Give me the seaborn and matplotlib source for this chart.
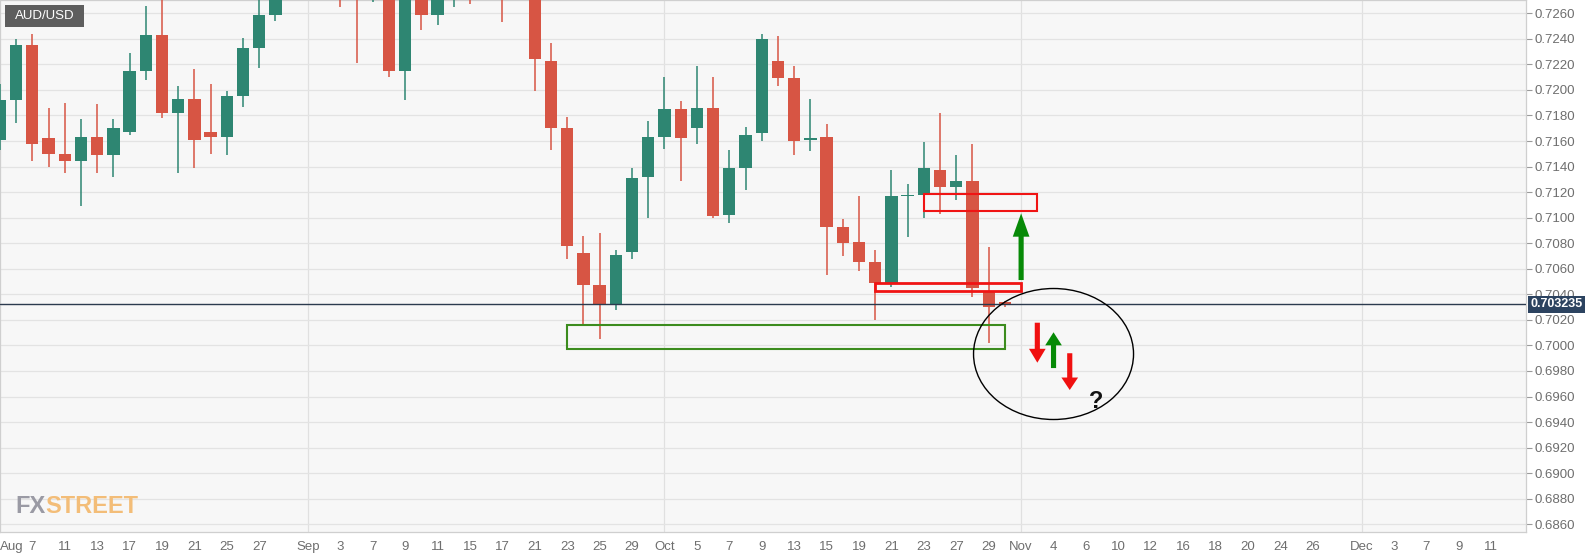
import matplotlib
matplotlib.use('Agg')
import matplotlib.pyplot as plt
import matplotlib.transforms as mtransforms
from matplotlib import font_manager
from matplotlib.patches import Rectangle, Ellipse
import numpy as np
import pandas as pd
import seaborn as sns


# ── AUD/USD daily candles, 5 Aug - 30 Oct 2020 ───────────────────────────────
candle_days = pd.bdate_range('2020-08-05', '2020-10-30')
opens = [0.7161, 0.7192, 0.7235, 0.7162, 0.7150, 0.7144, 0.7163, 0.7149, 0.7167, 0.7215,
         0.7243, 0.7182, 0.7193, 0.7167, 0.7163, 0.7195, 0.7233, 0.7259, 0.7360, 0.7373,
         0.7390, 0.7308, 0.7285, 0.7280, 0.7287, 0.7215, 0.7280, 0.7259, 0.7285, 0.7305,
         0.7290, 0.7315, 0.7300, 0.7290, 0.7223, 0.7170, 0.7072, 0.7047, 0.7032, 0.7073,
         0.7132, 0.7163, 0.7185, 0.7170, 0.7186, 0.7102, 0.7139, 0.7166, 0.7223, 0.7209,
         0.7161, 0.7163, 0.7093, 0.7081, 0.7065, 0.7049, 0.7117, 0.7118, 0.7137, 0.7124,
         0.7129, 0.7043, 0.7034]
highs = [0.7205, 0.7240, 0.7244, 0.7186, 0.7190, 0.7177, 0.7189, 0.7177, 0.7229, 0.7266,
         0.7276, 0.7203, 0.7216, 0.7205, 0.7199, 0.7241, 0.7290, 0.7366, 0.7390, 0.7414,
         0.7396, 0.7345, 0.7298, 0.7295, 0.7296, 0.7286, 0.7309, 0.7296, 0.7310, 0.7320,
         0.7345, 0.7330, 0.7320, 0.7300, 0.7237, 0.7179, 0.7086, 0.7088, 0.7075, 0.7139,
         0.7176, 0.7210, 0.7191, 0.7219, 0.7210, 0.7153, 0.7171, 0.7244, 0.7242, 0.7219,
         0.7193, 0.7173, 0.7099, 0.7117, 0.7075, 0.7137, 0.7126, 0.7159, 0.7182, 0.7149,
         0.7158, 0.7077, 0.7035]
lows = [0.7153, 0.7174, 0.7144, 0.7140, 0.7135, 0.7109, 0.7135, 0.7132, 0.7165, 0.7208,
        0.7178, 0.7135, 0.7139, 0.7150, 0.7149, 0.7187, 0.7217, 0.7254, 0.7345, 0.7360,
        0.7300, 0.7265, 0.7221, 0.7269, 0.7210, 0.7192, 0.7247, 0.7251, 0.7265, 0.7267,
        0.7275, 0.7253, 0.7280, 0.7199, 0.7153, 0.7068, 0.7016, 0.7005, 0.7028, 0.7068,
        0.7100, 0.7154, 0.7129, 0.7158, 0.7100, 0.7096, 0.7122, 0.7160, 0.7203, 0.7149,
        0.7152, 0.7055, 0.7070, 0.7058, 0.7020, 0.7046, 0.7085, 0.7100, 0.7103, 0.7114,
        0.7038, 0.7002, 0.7030]
closes = [0.7192, 0.7235, 0.7158, 0.7150, 0.7144, 0.7163, 0.7149, 0.7170, 0.7215, 0.7243,
          0.7182, 0.7193, 0.7161, 0.7163, 0.7195, 0.7233, 0.7259, 0.7360, 0.7373, 0.7390,
          0.7308, 0.7285, 0.7280, 0.7287, 0.7215, 0.7280, 0.7259, 0.7285, 0.7305, 0.7290,
          0.7315, 0.7300, 0.7290, 0.7224, 0.7170, 0.7078, 0.7047, 0.7032, 0.7071, 0.7131,
          0.7163, 0.7185, 0.7162, 0.7186, 0.7101, 0.7139, 0.7165, 0.7240, 0.7209, 0.7160,
          0.7162, 0.7093, 0.7080, 0.7065, 0.7049, 0.7117, 0.7118, 0.7139, 0.7124, 0.7129,
          0.7045, 0.7030, 0.7032]
last_price = 0.703235

tick_days = ['2020-08-03', '2020-08-07', '2020-08-11', '2020-08-13', '2020-08-17', '2020-08-19',
             '2020-08-21', '2020-08-25', '2020-08-27', '2020-09-01', '2020-09-03', '2020-09-07',
             '2020-09-09', '2020-09-11', '2020-09-15', '2020-09-17', '2020-09-21', '2020-09-23',
             '2020-09-25', '2020-09-29', '2020-10-01', '2020-10-05', '2020-10-07', '2020-10-09',
             '2020-10-13', '2020-10-15', '2020-10-19', '2020-10-21', '2020-10-23', '2020-10-27',
             '2020-10-29', '2020-11-02', '2020-11-04', '2020-11-06', '2020-11-10', '2020-11-12',
             '2020-11-16', '2020-11-18', '2020-11-20', '2020-11-24', '2020-11-26', '2020-12-01',
             '2020-12-03', '2020-12-07', '2020-12-09', '2020-12-11']
price_ticks = np.round(np.arange(0.6860, 0.72601, 0.0020), 4)

# ── hand-drawn annotations: (start day, end day, low, high) ──────────────────
zones = [
    ('2020-10-23', '2020-11-03', 0.71055, 0.71185, '#f01414', 1.5),
    ('2020-10-20', '2020-11-02', 0.70426, 0.70489, '#f01414', 2.0),
    ('2020-09-23', '2020-10-30', 0.69972, 0.70160, '#3c8c1e', 1.5),
]
# (day, tail price, tip price, colour, head length pt)
arrows = [
    ('2020-11-02', 0.70512, 0.71034, '#078a07', 16.8),
    ('2020-11-03', 0.70178, 0.69865, '#f01010', 10.0),
    ('2020-11-04', 0.69823, 0.70103, '#078a07', 9.4),
    ('2020-11-05', 0.69939, 0.69651, '#f01010', 9.0),
]
circle_day, circle_price = '2020-11-04', 0.69933
question_day, question_price = '2020-11-06', 0.69560

GREEN = '#2e8672'
RED = '#d75544'

W, H = 1596, 558
sns.set_theme(style='white')
plt.rcParams['font.family'] = ['Liberation Sans', 'DejaVu Sans']

calendar = pd.bdate_range('2020-08-03', '2020-12-31')
def day_pos(d):
    return calendar.get_loc(pd.Timestamp(d))

x_left = day_pos('2020-08-05') + 0.007
x_right = x_left + 1526 / 16.21

fig = plt.figure(figsize=(W / 100, H / 100), dpi=100, facecolor='white')
ax = fig.add_axes([0, 25.7 / H, 1526 / W, 1 - 25.7 / H])
ax.set_facecolor('#f7f7f7')

# candles
pos = calendar.get_indexer(candle_days)
o, hi, lo, c = map(np.array, (opens, highs, lows, closes))
col = np.where(c >= o, GREEN, RED)
body = np.maximum(np.abs(c - o), 0.00012)
bottom = np.minimum(o, c) - (body - np.abs(c - o)) / 2
ax.vlines(pos, lo, hi, colors=col, lw=1.1, zorder=3)
ax.bar(pos, body, bottom=bottom, width=0.76, color=col, linewidth=0, zorder=4)

# grid
ax.set_yticks(price_ticks)
ax.yaxis.grid(True, color='#e3e3e3', lw=0.9, zorder=0)
tick_pos = [max(day_pos(d), x_left) for d in tick_days]
labels, seen = [], set()
for d in pd.to_datetime(tick_days):
    if d.month not in seen:
        labels.append(d.strftime('%b'))
        seen.add(d.month)
    else:
        labels.append(str(d.day))
for p, lab in zip(tick_pos, labels):
    if lab in ('Sep', 'Oct', 'Nov', 'Dec'):
        ax.axvline(p, color='#e0e0e0', lw=0.9, zorder=0)
ax.set_xticks(tick_pos, labels)
ax.get_xticklabels()[0].set_ha('left')

ax.set_xlim(x_left, x_right)
ax.set_ylim(0.685374, 0.72704)

ax.yaxis.tick_right()
ax.set_yticklabels([f'{v:.4f}' for v in price_ticks])
ax.tick_params(axis='y', direction='out', length=4, width=0.8, color='#9a9a9a',
               labelcolor='#6e6e6e', labelsize=9.5, pad=2)
ax.tick_params(axis='x', direction='out', length=3, width=0.8, color='#9a9a9a',
               labelcolor='#6e6e6e', labelsize=9.5, pad=3)
for s in ax.spines.values():
    s.set_color('#cfcfcf')
    s.set_linewidth(0.9)

# current price line and tag
ax.axhline(last_price, color='#2b3a4e', lw=1.0, zorder=5)
blend = mtransforms.blended_transform_factory(ax.transAxes, ax.transData)
ax.text(1.003, last_price, f'{last_price:.6f}', transform=blend, ha='left', va='center',
        color='white', fontsize=9, fontweight='bold', zorder=10, clip_on=False,
        bbox=dict(boxstyle='square,pad=0.2', fc='#2c4360', ec='none'))

# annotation boxes
for d0, d1, p0, p1, ec, lw in zones:
    ax.add_patch(Rectangle((day_pos(d0), p0), day_pos(d1) - day_pos(d0), p1 - p0,
                           fill=False, ec=ec, lw=lw, zorder=6))
for d, p_tail, p_tip, clr, hl in arrows:
    x = day_pos(d)
    ax.annotate('', xy=(x, p_tip), xytext=(x, p_tail), zorder=7,
                arrowprops=dict(arrowstyle=f'simple,head_length={hl},head_width=12,tail_width=3.7',
                                mutation_scale=1, fc=clr, ec='none', lw=0,
                                shrinkA=0, shrinkB=0))
ax.add_patch(Ellipse((day_pos(circle_day), circle_price), 160 / 16.21, 0.010254,
                     fill=False, ec='black', lw=1.0, zorder=7))
ax.text(day_pos(question_day) + 0.66, question_price, '?', ha='center', va='center',
        fontsize=17, fontweight='bold', color='#111111', zorder=8)

# symbol tag
fig.patches.append(Rectangle((5 / W, 1 - 27 / H), 79 / W, 22 / H, transform=fig.transFigure,
                             fc='#5e5e5e', ec='none', zorder=10))
fig.text(15 / W, 1 - 16.3 / H, 'AUD/USD', ha='left', va='center', color='white',
         fontsize=9.5, zorder=11)

# watermark
names = {f.name for f in font_manager.fontManager.ttflist}
wm_family = 'Liberation Sans Narrow' if 'Liberation Sans Narrow' in names else 'Liberation Sans'
fx = fig.text(15.5 / W, 1 - 512.7 / H, 'FX', ha='left', va='baseline', color='#9a9aa4',
              fontsize=17, fontweight='bold', family=wm_family, zorder=2)
fig.canvas.draw()
r = fx.get_window_extent().x1
fig.text(r / W, 1 - 512.7 / H, 'STREET', ha='left', va='baseline', color='#f3bd78',
         fontsize=17, fontweight='bold', family=wm_family, zorder=2)

fig.savefig('out.png', dpi=100, facecolor='white')
